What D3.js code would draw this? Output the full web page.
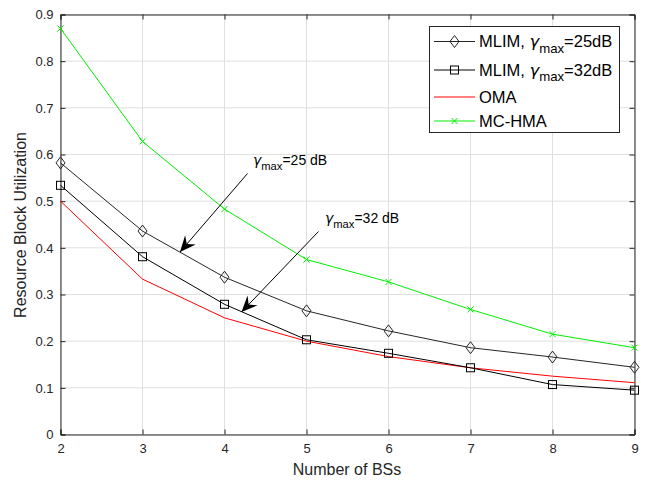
<!DOCTYPE html>
<html><head><meta charset="utf-8">
<script src="https://cdn.jsdelivr.net/npm/d3@7"></script>
<style>body{margin:0;background:#fff}svg{display:block;font-family:"Liberation Sans",Arial,sans-serif}</style>
</head><body>
<script>
const bsCounts = [2,3,4,5,6,7,8,9];
const mlim25 = [0.582,0.436,0.337,0.265,0.222,0.186,0.166,0.144];
const mlim32 = [0.534,0.381,0.279,0.203,0.174,0.143,0.107,0.095];
const oma = [0.5,0.333,0.25,0.2,0.167,0.143,0.125,0.111];
const mchma = [0.87,0.628,0.483,0.375,0.327,0.268,0.215,0.186];
const yTicks = [0,0.1,0.2,0.3,0.4,0.5,0.6,0.7,0.8,0.9];
const xTicks = [2,3,4,5,6,7,8,9];

const W=645,H=481;
const L=60.5,R=634.5,T=14.5,B=434.5;
const svg=d3.select("body").append("svg").attr("width",W).attr("height",H);
const x=d3.scaleLinear().domain([2,9]).range([L,R]);
const y=d3.scaleLinear().domain([0,0.9]).range([B,T]);

// grid
const g=svg.append("g");
g.selectAll(".gx").data(xTicks).join("line").attr("x1",d=>x(d)).attr("x2",d=>x(d)).attr("y1",T).attr("y2",B).attr("stroke","#dfdfdf").attr("stroke-width",1);
g.selectAll(".gy").data(yTicks).join("line").attr("y1",d=>y(d)).attr("y2",d=>y(d)).attr("x1",L).attr("x2",R).attr("stroke","#dfdfdf").attr("stroke-width",1);

// axes
const ax=svg.append("g").attr("transform",`translate(0,${B})`).call(d3.axisBottom(x).tickValues(xTicks).tickSize(-5).tickPadding(9).tickFormat(d3.format("d")));
const ay=svg.append("g").attr("transform",`translate(${L},0)`).call(d3.axisLeft(y).tickValues(yTicks).tickSize(-5).tickPadding(7).tickFormat(d=>d===0?"0":d3.format(".1f")(d)));
const axT=svg.append("g").attr("transform",`translate(0,${T})`).call(d3.axisTop(x).tickValues(xTicks).tickSize(-5).tickFormat(""));
const ayR=svg.append("g").attr("transform",`translate(${R},0)`).call(d3.axisRight(y).tickValues(yTicks).tickSize(-5).tickFormat(""));
[ax,ay,axT,ayR].forEach(a=>{a.selectAll("path,line").attr("stroke","#262626");a.selectAll("text").attr("fill","#262626").style("font-size","13px").style("font-family","Liberation Sans, Arial, sans-serif");});

// lines
const line=d3.line().x((d,i)=>x(bsCounts[i])).y(d=>y(d));
const plot=svg.append("g");
function drawLine(data,color){plot.append("path").datum(data).attr("d",line).attr("fill","none").attr("stroke",color).attr("stroke-width",1);}
drawLine(oma,"#ff0000");
drawLine(mlim32,"#000000");
drawLine(mlim25,"#262626");
drawLine(mchma,"#00ee00");

function diamond(sel,cx,cy,c){sel.append("path").attr("d",`M${cx},${cy-6}L${cx+4.5},${cy}L${cx},${cy+6}L${cx-4.5},${cy}Z`).attr("fill","none").attr("stroke",c).attr("stroke-width",1);}
function square(sel,cx,cy,c){sel.append("rect").attr("x",cx-4).attr("y",cy-4).attr("width",8).attr("height",8).attr("fill","none").attr("stroke",c).attr("stroke-width",1);}
function cross(sel,cx,cy,c){sel.append("path").attr("d",`M${cx-3},${cy-3}L${cx+3},${cy+3}M${cx-3},${cy+3}L${cx+3},${cy-3}`).attr("stroke",c).attr("stroke-width",1);}
mlim25.forEach((v,i)=>diamond(plot,x(bsCounts[i]),y(v),"#262626"));
mlim32.forEach((v,i)=>square(plot,x(bsCounts[i]),y(v),"#000"));
mchma.forEach((v,i)=>cross(plot,x(bsCounts[i]),y(v),"#00ee00"));

// annotations
function arrow(x1,y1,x2,y2){
  plot.append("line").attr("x1",x1).attr("y1",y1).attr("x2",x2).attr("y2",y2).attr("stroke","#000").attr("stroke-width",1);
  const a=Math.atan2(y2-y1,x2-x1),len=16,wd=7;
  const bx=x2-len*Math.cos(a),by=y2-len*Math.sin(a);
  const px=-Math.sin(a),py=Math.cos(a);
  const mx=x2-0.65*len*Math.cos(a),my=y2-0.65*len*Math.sin(a);
  plot.append("path").attr("d",`M${x2},${y2}L${bx+px*wd},${by+py*wd}L${mx},${my}L${bx-px*wd},${by-py*wd}Z`).attr("fill","#000");
}
arrow(247.5,173.5,180,252);
arrow(318.5,231.5,241.5,312);
function gammaText(sel,tx,ty,val,size){
  const t=sel.append("text").attr("x",tx).attr("y",ty).attr("fill","#000").style("font-size",size+"px");
  t.append("tspan").text("γ").style("font-family","DejaVu Sans, sans-serif").style("font-style","oblique");
  t.append("tspan").text("max").attr("dy",size*0.35).style("font-size",(size*0.8)+"px");
  t.append("tspan").text(val).attr("dy",-size*0.35);
}
gammaText(plot,253,165,"=25 dB",14);
gammaText(plot,325,223,"=32 dB",14);

// legend
const lg=svg.append("g");
lg.append("rect").attr("x",429.5).attr("y",26.5).attr("width",190).attr("height",106).attr("fill","#fff").attr("stroke","#262626").attr("stroke-width",1);
const rows=[41.5,70,97,121];
const lx1=434,lx2=475,lmid=454.5;
[["#262626"],["#000"],["#ff0000"],["#00ee00"]].forEach((c,i)=>{
  lg.append("line").attr("x1",lx1).attr("x2",lx2).attr("y1",rows[i]).attr("y2",rows[i]).attr("stroke",c[0]).attr("stroke-width",1);
});
diamond(lg,lmid,rows[0],"#262626");
square(lg,lmid,rows[1],"#000");
cross(lg,lmid,rows[3],"#00ee00");
gammaText(lg,479,rows[0]+5.5,"=25dB",16.5);
gammaText(lg,479,rows[1]+5.5,"=32dB",16.5);
lg.selectAll("text").each(function(){d3.select(this).insert("tspan",":first-child").text("MLIM, ");});
lg.append("text").attr("x",479).attr("y",rows[2]+5.5).text("OMA").style("font-size","16.5px").attr("fill","#000");
lg.append("text").attr("x",479).attr("y",rows[3]+5.5).text("MC-HMA").style("font-size","16.5px").attr("fill","#000");

// axis labels
svg.append("text").attr("x",347).attr("y",475).attr("text-anchor","middle").text("Number of BSs").style("font-size","16px").attr("fill","#262626");
svg.append("text").attr("transform",`translate(26,${225}) rotate(-90)`).attr("text-anchor","middle").text("Resource Block Utilization").style("font-size","16px").attr("fill","#262626");
</script>
</body></html>
